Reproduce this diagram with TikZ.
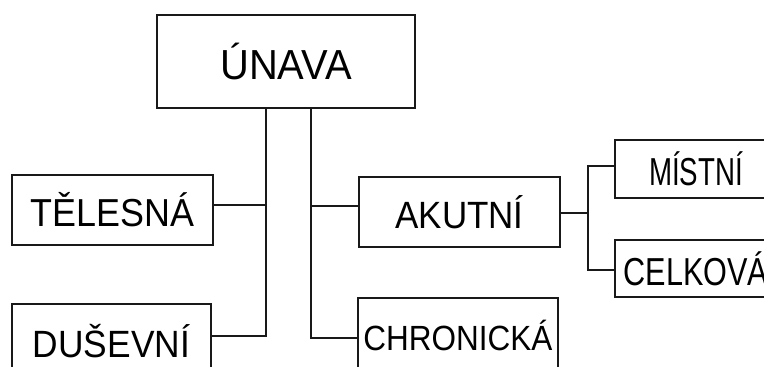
\documentclass[tikz,border=0pt]{standalone}
\usepackage{fontspec}
\setmainfont{Liberation Sans}
\usepackage{graphicx}
\newcommand\boxtxt[3]{\scalebox{#2}[1]{\fontsize{#1pt}{#1pt}\selectfont #3}}
\begin{document}
\begin{tikzpicture}[x=1pt,y=-1pt,
  box/.style={draw=black!90,line width=1.4pt,rectangle,inner sep=0pt,outer sep=0pt,fill=white},
  conn/.style={draw=black!90,line width=1.4pt}]
\clip (0,0) rectangle (764,367);
\fill[white] (0,0) rectangle (764,367);
\node[box,minimum width=258pt,minimum height=93pt] (unava) at (286,61.5) {\boxtxt{42}{0.95}{ÚNAVA}};
\node[box,minimum width=201pt,minimum height=70pt] (telesna) at (112.5,210) {\boxtxt{39}{0.92}{TĚLESNÁ}};
\node[box,minimum width=199pt,minimum height=75pt] (dusevni) at (111.5,341.5) {\boxtxt{38}{0.93}{DUŠEVNÍ}};
\node[box,minimum width=201pt,minimum height=70pt] (akutni) at (459.5,212) {\boxtxt{38}{0.92}{AKUTNÍ}};
\node[box,minimum width=200pt,minimum height=75pt] (chronicka) at (458,335.5) {\boxtxt{35}{0.90}{CHRONICKÁ}};
\node[box,minimum width=162pt,minimum height=58pt] (mistni) at (696,169) {\boxtxt{39}{0.71}{MÍSTNÍ}};
\node[box,minimum width=162pt,minimum height=57pt] (celkova) at (696,268.5) {\boxtxt{39}{0.785}{CELKOVÁ}\hspace{14pt}};
\coordinate (br) at ([xshift=28pt,yshift=-1pt]akutni.east);
\draw[conn] ([xshift=-20pt]unava.south) |- ([yshift=5.5pt]dusevni.east);
\draw[conn] ([yshift=5pt]telesna.east) -| ([xshift=-20pt]unava.south);
\draw[conn] ([xshift=25pt]unava.south) |- ([yshift=-2.5pt]chronicka.west);
\draw[conn] ([yshift=6pt]akutni.west) -| ([xshift=25pt]unava.south);
\draw[conn] ([yshift=-1pt]akutni.east) -- (br);
\draw[conn] ([yshift=3pt]mistni.west) -| (br) |- ([yshift=-1.5pt]celkova.west);
\end{tikzpicture}
\end{document}
